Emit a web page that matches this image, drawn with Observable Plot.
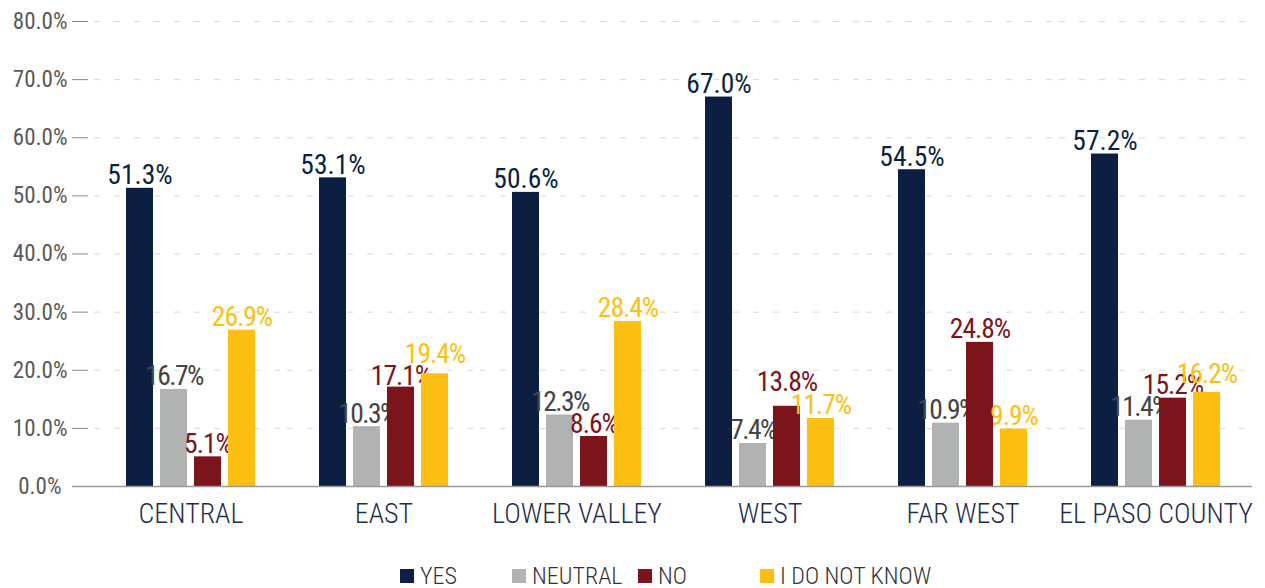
<!DOCTYPE html>
<html><head><meta charset="utf-8">
<script src="https://cdn.jsdelivr.net/npm/d3@7"></script>
<script src="https://cdn.jsdelivr.net/npm/@observablehq/plot@0.6"></script>
<style>
body{margin:0;background:#fff;}
#legend{position:relative;height:40px;font-family:"Roboto Condensed","Liberation Sans Narrow","DejaVu Sans Condensed",Roboto,sans-serif;font-size:24px;font-weight:300;color:#333;}
.item{position:absolute;top:15px;display:flex;align-items:center;height:26px;}
.sw{width:14px;height:14px;margin-right:6px;}
.tight1 text{letter-spacing:-1px;}
.tight2 text{letter-spacing:-1.6px;}
</style></head><body>
<div id="chart"></div>
<div id="legend"></div>
<script>
const categories = ["CENTRAL","EAST","LOWER VALLEY","WEST","FAR WEST","EL PASO COUNTY"];
const seriesNames = ["YES","NEUTRAL","NO","I DO NOT KNOW"];
const yesValues = [51.3,53.1,50.6,67.0,54.5,57.2];
const neutralValues = [16.7,10.3,12.3,7.4,10.9,11.4];
const noValues = [5.1,17.1,8.6,13.8,24.8,15.2];
const idkValues = [26.9,19.4,28.4,11.7,9.9,16.2];
const yTicks = [0,10,20,30,40,50,60,70,80];

const barColors = ["#0c1f42","#b1b2b2","#7c141b","#fcbf12"];
const labelColors = ["#0c1f42","#444444","#7c141b","#fcbf12"];
const labelClasses = [null,"tight2","tight1","tight1"];
const FONT = '"Roboto Condensed","Liberation Sans Narrow","DejaVu Sans Condensed",Roboto,sans-serif';
// extra lift (px) for labels that the original moved up to avoid collisions
const labelLift = {"EAST|I DO NOT KNOW":7, "WEST|NO":11, "EL PASO COUNTY|I DO NOT KNOW":5, "EAST|NO":-2};

const valueArrays = [yesValues, neutralValues, noValues, idkValues];
const data = categories.flatMap((c,i)=>seriesNames.map((s,j)=>({category:c, series:s, idx:j, value:valueArrays[j][i]})));

const barMarks = seriesNames.flatMap((s,j)=>{
  const d = data.filter(r=>r.idx===j);
  const groups = d3.group(d, r=>labelLift[r.category+"|"+r.series]||0);
  return [
    Plot.barY(d,{fx:"category",x:"series",y:"value",fill:barColors[j]}),
    ...Array.from(groups, ([lift, rows])=>
      Plot.text(rows,{fx:"category",x:"series",y:"value",text:r=>r.value.toFixed(1)+"%",fill:labelColors[j],lineAnchor:"bottom",dy:-4-lift,fontSize:27.5,fontWeight:400,className:labelClasses[j]||undefined}))
  ];
});

const chart = Plot.plot({
  width:1265, height:548,
  marginTop:21, marginBottom:62, marginLeft:93, marginRight:12,
  style:{fontFamily:FONT, fontWeight:300, background:"#fff"},
  fx:{domain:categories, padding:0, label:null, axis:null},
  x:{domain:seriesNames, paddingInner:0.2, paddingOuter:0.86, axis:null},
  y:{domain:[0,80], axis:null},
  marks:[
    Plot.gridY(yTicks.slice(1),{stroke:"#d9d9d9",strokeOpacity:1,strokeDasharray:"6,14"}),
    Plot.axisY(yTicks.slice(1),{tickSize:16,dx:-6,tickPadding:5,tickFormat:d=>d.toFixed(1)+"%",fontSize:23,fontWeight:400,fill:"#595959",stroke:"#888",label:null}),
    Plot.axisY([0],{tickSize:22,tickPadding:11,tickFormat:d=>d.toFixed(1)+"%",fontSize:23,fontWeight:400,fill:"#595959",stroke:"#999",strokeWidth:1.5,label:null}),
    Plot.axisFx({anchor:"bottom",tickSize:0,tickPadding:17,fontSize:28,fontWeight:300,fill:"#1f2d4d",label:null}),
    ...barMarks,
    Plot.ruleY([0],{stroke:"#999",strokeWidth:1.5})
  ]
});
document.getElementById("chart").append(chart);

const legend = document.getElementById("legend");
const legendLeft = [400,512,638,760];
seriesNames.forEach((s,j)=>{
  const it = document.createElement("div");
  it.className="item";
  it.style.left = legendLeft[j]+"px";
  const sw = document.createElement("span");
  sw.className="sw"; sw.style.background = barColors[j];
  const tx = document.createElement("span");
  tx.textContent = s;
  it.append(sw, tx);
  legend.append(it);
});
</script>
</body></html>
